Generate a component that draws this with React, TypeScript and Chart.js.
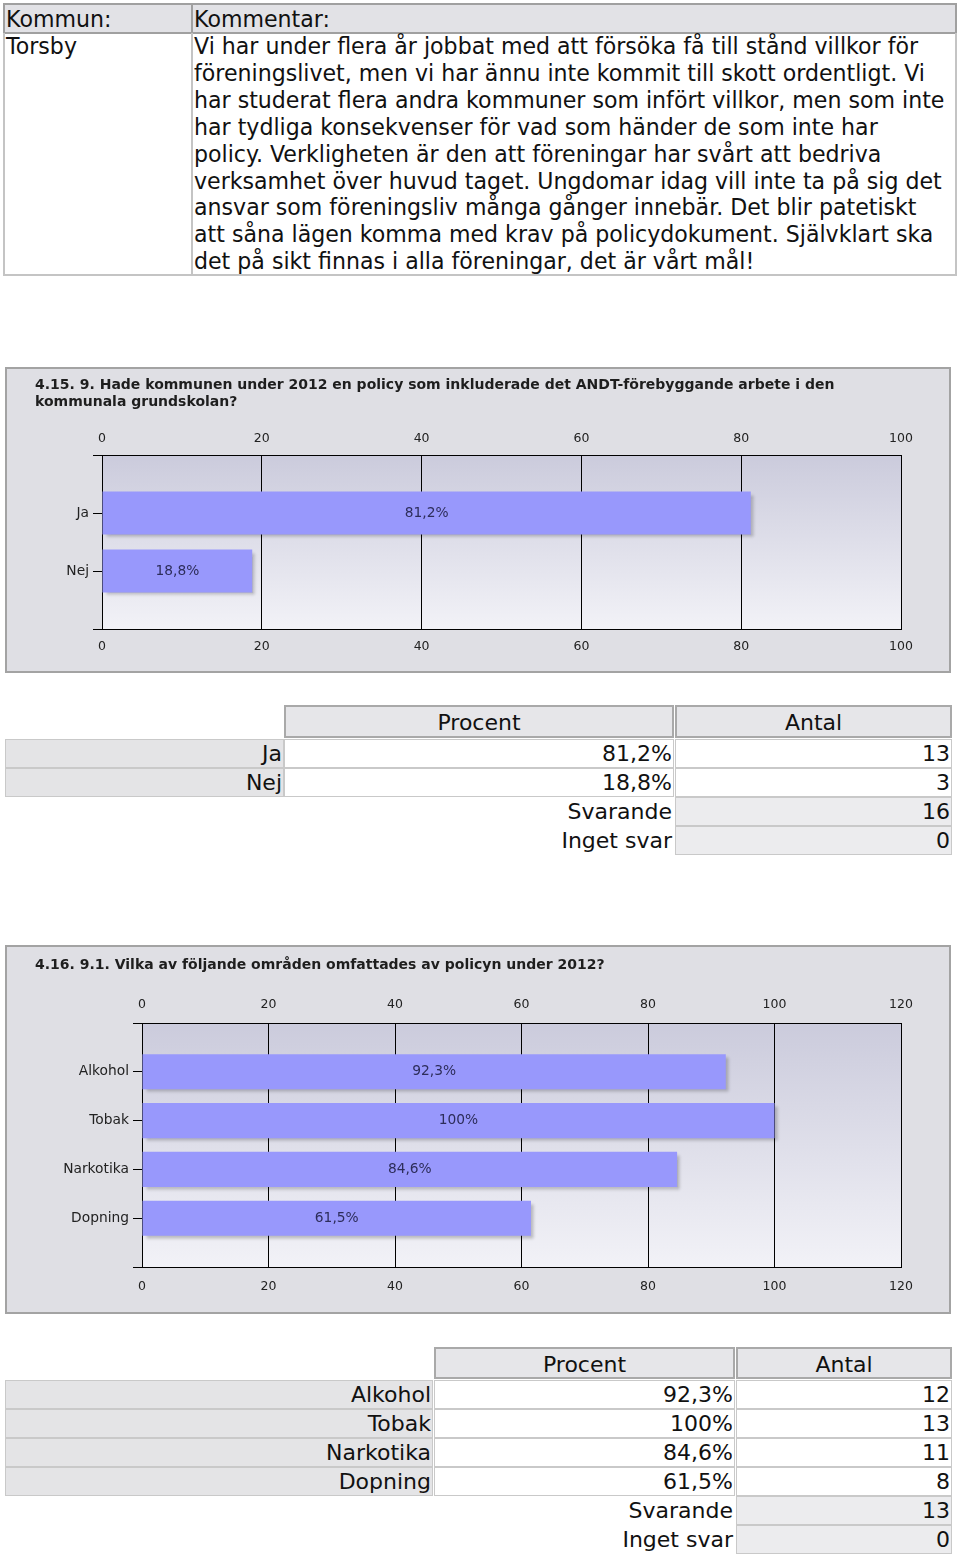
import React, { useEffect, useRef } from 'react';
import { Chart, registerables } from 'chart.js';

Chart.register(...registerables);

// ---------------- DATA ----------------
const headerKommun = 'Kommun:';
const headerKommentar = 'Kommentar:';
const kommunName = 'Torsby';
const commentLines = [
  'Vi har under flera år jobbat med att försöka få till stånd villkor för',
  'föreningslivet, men vi har ännu inte kommit till skott ordentligt. Vi',
  'har studerat flera andra kommuner som infört villkor, men som inte',
  'har tydliga konsekvenser för vad som händer de som inte har',
  'policy. Verkligheten är den att föreningar har svårt att bedriva',
  'verksamhet över huvud taget. Ungdomar idag vill inte ta på sig det',
  'ansvar som föreningsliv många gånger innebär. Det blir patetiskt',
  'att såna lägen komma med krav på policydokument. Självklart ska',
  'det på sikt finnas i alla föreningar, det är vårt mål!',
];

const q1Title = [
  '4.15. 9. Hade kommunen under 2012 en policy som inkluderade det ANDT-förebyggande arbete i den',
  'kommunala grundskolan?',
];
const q1Categories = ['Ja', 'Nej'];
const q1Percent = [81.2, 18.8];
const q1Counts = [13, 3];
const q1Answered = 16;
const q1NoAnswer = 0;
const q1AxisMax = 100;

const q2Title = ['4.16. 9.1. Vilka av följande områden omfattades av policyn under 2012?'];
const q2Categories = ['Alkohol', 'Tobak', 'Narkotika', 'Dopning'];
const q2Percent = [92.3, 100, 84.6, 61.5];
const q2Counts = [12, 13, 11, 8];
const q2Answered = 13;
const q2NoAnswer = 0;
const q2AxisMax = 120;

const axisStep = 20;
const colHeaders = ['Procent', 'Antal'];
const answeredLabel = 'Svarande';
const noAnswerLabel = 'Inget svar';

// ---------------- HELPERS ----------------
const fmtPct = (v: number) =>
  (Number.isInteger(v) ? String(v) : v.toFixed(1).replace('.', ',')) + '%';

const TXT_FONT = '"DejaVu Sans", Verdana, sans-serif';
const CHART_FONT = 'DejaVu Sans';
const TOP_SIZE = 22.1;
const TABLE_SIZE = 22;

type ChartCfg = {
  title: string[];
  categories: string[];
  values: number[];
  max: number;
  width: number;
  height: number;
  yWidth: number;
  topAxisH: number;
  bottomAxisH: number;
  topTickPad: number;
  bottomTickPad: number;
  padTop: number;
  padBottom: number;
  barPct: number;
};

function BarChart(props: ChartCfg & { left: number; top: number }) {
  const ref = useRef<HTMLCanvasElement | null>(null);
  useEffect(() => {
    const canvas = ref.current;
    if (!canvas) return;
    const labels = ['', ...props.categories, ''];
    const data = [null, ...props.values, null];
    const tickFont = { family: CHART_FONT, size: 12.5 };
    const catFont = { family: CHART_FONT, size: 13.8 };

    const bgPlugin = {
      id: 'plotBg',
      beforeDraw(chart: any) {
        const { ctx, chartArea: a } = chart;
        const g = ctx.createLinearGradient(0, a.top, 0, a.bottom);
        g.addColorStop(0, '#cbcbdc');
        g.addColorStop(1, '#f2f2f7');
        ctx.save();
        ctx.fillStyle = g;
        ctx.fillRect(a.left, a.top, a.right - a.left, a.bottom - a.top);
        ctx.restore();
      },
    };
    const shadowPlugin = {
      id: 'barShadow',
      beforeDatasetsDraw(chart: any) {
        const ctx = chart.ctx;
        ctx.save();
        ctx.shadowColor = 'rgba(0,0,0,0.22)';
        ctx.shadowOffsetX = 3;
        ctx.shadowOffsetY = 3;
        ctx.shadowBlur = 3;
      },
      afterDatasetsDraw(chart: any) {
        const ctx = chart.ctx;
        ctx.restore();
        const meta = chart.getDatasetMeta(0);
        ctx.save();
        ctx.fillStyle = '#2d2d5a';
        ctx.font = `13.8px ${CHART_FONT}`;
        ctx.textAlign = 'center';
        ctx.textBaseline = 'middle';
        meta.data.forEach((bar: any, i: number) => {
          const v = data[i];
          if (v == null) return;
          const p = bar.getProps(['x', 'y', 'base'], true);
          ctx.fillText(fmtPct(v as number), (p.x + p.base) / 2, p.y);
        });
        ctx.restore();
      },
    };

    const chart = new Chart(canvas, {
      type: 'bar',
      data: {
        labels,
        datasets: [
          {
            data: data as any,
            backgroundColor: '#9898fc',
            borderWidth: 0,
            categoryPercentage: 1,
            barPercentage: props.barPct,
            xAxisID: 'x',
            yAxisID: 'y',
          },
        ],
      },
      options: {
        indexAxis: 'y',
        animation: false,
        responsive: false,
        devicePixelRatio: 1,
        events: [],
        layout: {
          padding: { top: props.padTop, left: 28, right: 48, bottom: props.padBottom },
        },
        plugins: {
          legend: { display: false },
          tooltip: { enabled: false },
          title: {
            display: true,
            text: props.title,
            align: 'start',
            color: '#1e1e1e',
            font: { family: CHART_FONT, size: 14, weight: 'bold', lineHeight: '17px' } as any,
            padding: { top: 0, bottom: 0 },
          },
        },
        scales: {
          x: {
            type: 'linear',
            position: 'top',
            min: 0,
            max: props.max,
            ticks: { stepSize: axisStep, padding: props.topTickPad, color: '#222', font: tickFont },
            grid: { color: '#000', drawTicks: false, lineWidth: 1 },
            border: { color: '#000', width: 1 },
            afterFit(s: any) {
              s.height = props.topAxisH;
              s.paddingLeft = 0;
              s.paddingRight = 0;
            },
          },
          x2: {
            type: 'linear',
            axis: 'x',
            position: 'bottom',
            min: 0,
            max: props.max,
            ticks: { stepSize: axisStep, padding: props.bottomTickPad, color: '#222', font: tickFont },
            grid: { drawOnChartArea: false, drawTicks: false },
            border: { color: '#000', width: 1 },
            afterFit(s: any) {
              s.height = props.bottomAxisH;
              s.paddingLeft = 0;
              s.paddingRight = 0;
            },
          },
          y: {
            type: 'category',
            offset: false,
            grid: { drawOnChartArea: false, color: '#000', tickLength: 9, offset: false },
            border: { color: '#000', width: 1 },
            ticks: { padding: 4, color: '#222', font: catFont, autoSkip: false },
            afterFit(s: any) {
              s.width = props.yWidth;
              s.paddingTop = 0;
              s.paddingBottom = 0;
            },
          },
        } as any,
      },
      plugins: [bgPlugin, shadowPlugin],
    });
    return () => chart.destroy();
  }, []);

  return (
    <div
      style={{
        position: 'absolute',
        left: props.left,
        top: props.top,
        width: props.width + 4,
        height: props.height + 4,
        boxSizing: 'border-box',
        border: '2px solid #a3a3a3',
        background: '#dfdfe4',
      }}
    >
      <canvas
        ref={ref}
        width={props.width}
        height={props.height}
        style={{ display: 'block', width: props.width, height: props.height }}
      />
    </div>
  );
}

type CellProps = {
  x: number;
  y: number;
  w: number;
  h: number;
  bg: string;
  border: string;
  text: string | number;
  align: 'left' | 'right' | 'center';
};

function Cell({ x, y, w, h, bg, border, text, align }: CellProps) {
  return (
    <div
      style={{
        position: 'absolute',
        left: x,
        top: y,
        width: w,
        height: h,
        boxSizing: 'border-box',
        background: bg,
        border,
        textAlign: align,
        fontFamily: TXT_FONT,
        fontSize: TABLE_SIZE,
        lineHeight: `${h - 1}px`,
        color: '#111',
        whiteSpace: 'nowrap',
        overflow: 'visible',
        paddingRight: align === 'right' ? 1 : 0,
      }}
    >
      {text}
    </div>
  );
}

function ResultTable(props: {
  top: number;
  labelW: number;
  pctX: number;
  pctW: number;
  cntX: number;
  cntW: number;
  headerH: number;
  categories: string[];
  percents: number[];
  counts: number[];
  answered: number;
  noAnswer: number;
}) {
  const { top, labelW, pctX, pctW, cntX, cntW, headerH } = props;
  const rowH = 29;
  const rowTop = top + headerH + 1;
  const HB = '2px solid #a9a9a9';
  const RB = '1px solid #c9c9c9';
  const cells: any[] = [];
  cells.push(
    <Cell key="h1" x={pctX} y={top} w={pctW} h={headerH} bg="#e6e6e9" border={HB} text={colHeaders[0]} align="center" />,
    <Cell key="h2" x={cntX} y={top} w={cntW} h={headerH} bg="#e6e6e9" border={HB} text={colHeaders[1]} align="center" />
  );
  props.categories.forEach((c, i) => {
    const y = rowTop + i * rowH;
    cells.push(
      <Cell key={'l' + i} x={5} y={y} w={labelW} h={rowH} bg="#e4e4e6" border={RB} text={c} align="right" />,
      <Cell key={'p' + i} x={pctX} y={y} w={pctW} h={rowH} bg="#ffffff" border={RB} text={fmtPct(props.percents[i])} align="right" />,
      <Cell key={'c' + i} x={cntX} y={y} w={cntW} h={rowH} bg="#ffffff" border={RB} text={props.counts[i]} align="right" />
    );
  });
  const n = props.categories.length;
  const extra: [string, number][] = [
    [answeredLabel, props.answered],
    [noAnswerLabel, props.noAnswer],
  ];
  extra.forEach(([lab, val], j) => {
    const y = rowTop + (n + j) * rowH;
    cells.push(
      <Cell key={'el' + j} x={pctX} y={y} w={pctW} h={rowH} bg="transparent" border="1px solid transparent" text={lab} align="right" />,
      <Cell key={'ev' + j} x={cntX} y={y} w={cntW} h={rowH} bg="#ececee" border={RB} text={val} align="right" />
    );
  });
  return <>{cells}</>;
}

const topCell = (extra: any) => ({
  position: 'absolute' as const,
  boxSizing: 'border-box' as const,
  fontFamily: TXT_FONT,
  fontSize: TOP_SIZE,
  paddingLeft: 1,
  color: '#111',
  ...extra,
});

export default function App() {
  return (
    <div style={{ position: 'absolute', left: 0, top: 0, width: 960, height: 1556, background: '#fff' }}>
      {/* Comment table */}
      <div style={topCell({ left: 3, top: 3, width: 190, height: 31, background: '#e2e2e6', border: '2px solid #a0a0a0', lineHeight: '29px' })}>
        {headerKommun}
      </div>
      <div style={topCell({ left: 191, top: 3, width: 766, height: 31, background: '#e2e2e6', border: '2px solid #a0a0a0', lineHeight: '29px' })}>
        {headerKommentar}
      </div>
      <div style={topCell({ left: 3, top: 33, width: 190, height: 243, border: '2px solid #c4c4c4', borderTop: 'none', lineHeight: '27px' })}>
        {kommunName}
      </div>
      <div style={topCell({ left: 191, top: 33, width: 766, height: 243, border: '2px solid #c4c4c4', borderTop: 'none', lineHeight: '26.9px' })}>
        {commentLines.map((l, i) => (
          <div key={i} style={{ whiteSpace: 'nowrap' }}>{l}</div>
        ))}
      </div>

      <BarChart
        left={5}
        top={367}
        width={942}
        height={302}
        title={q1Title}
        categories={q1Categories}
        values={q1Percent}
        max={q1AxisMax}
        yWidth={67}
        topAxisH={44}
        bottomAxisH={30}
        topTickPad={9}
        bottomTickPad={10}
        padTop={8}
        padBottom={12}
        barPct={0.74}
      />

      <ResultTable
        top={705}
        labelW={279}
        pctX={284}
        pctW={390}
        cntX={675}
        cntW={277}
        headerH={33}
        categories={q1Categories}
        percents={q1Percent}
        counts={q1Counts}
        answered={q1Answered}
        noAnswer={q1NoAnswer}
      />

      <BarChart
        left={5}
        top={945}
        width={942}
        height={365}
        title={q2Title}
        categories={q2Categories}
        values={q2Percent}
        max={q2AxisMax}
        yWidth={107}
        topAxisH={49}
        bottomAxisH={30}
        topTickPad={11}
        bottomTickPad={12}
        padTop={10}
        padBottom={15}
        barPct={0.72}
      />

      <ResultTable
        top={1347}
        labelW={428}
        pctX={434}
        pctW={301}
        cntX={736}
        cntW={216}
        headerH={32}
        categories={q2Categories}
        percents={q2Percent}
        counts={q2Counts}
        answered={q2Answered}
        noAnswer={q2NoAnswer}
      />
    </div>
  );
}
